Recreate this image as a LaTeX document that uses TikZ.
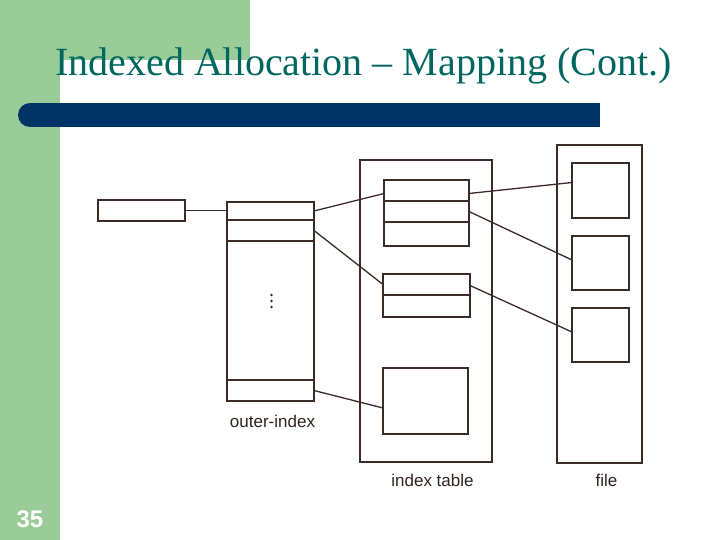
\documentclass[tikz,border=0pt]{standalone}
\usepackage{fontspec}
\setmainfont{Liberation Serif}
\setsansfont{Liberation Sans}
\definecolor{slidegreen}{RGB}{153,204,153}
\definecolor{barblue}{RGB}{0,51,102}
\definecolor{titleteal}{RGB}{0,102,96}
\definecolor{ink}{RGB}{58,43,38}
\begin{document}
\begin{tikzpicture}[x=1pt,y=-1pt,
  cell/.style={draw=ink,line width=1.2pt,inner sep=0pt,outer sep=0pt,rectangle},
  link/.style={draw=ink,line width=1.3pt},
  lab/.style={font=\sffamily\fontsize{17}{20}\selectfont,text=ink!85!black,inner sep=0pt,anchor=base}]
\useasboundingbox (0,0) rectangle (720,540);
\fill[white] (0,0) rectangle (720,540);
% slide decoration
\fill[slidegreen] (0,0) rectangle (60,540);
\fill[slidegreen] (0,0) rectangle (250,60);
\fill[barblue] (30,103) rectangle (600,127);
\fill[barblue] (30,115) circle (12pt);
\node[anchor=base west,inner sep=0pt,text=titleteal,font=\fontsize{40}{44}\selectfont] (title) at (55,76) {Indexed Allocation -- Mapping (Cont.)};
\node[anchor=base,inner sep=0pt,text=white,font=\sffamily\bfseries\fontsize{24}{28}\selectfont] (pagenum) at (30,527) {35};
% left pointer box
\node[cell,minimum width=87pt,minimum height=21pt] (small) at (141.5,210.5) {};
% outer index
\node[cell,minimum width=87pt,minimum height=18pt] (o1) at (270.5,211) {};
\node[cell,minimum width=87pt,minimum height=21pt] (o2) at (270.5,230.5) {};
\node[cell,minimum width=87pt,minimum height=139pt] (omid) at (270.5,310.5) {};
\node[cell,minimum width=87pt,minimum height=21pt] (olast) at (270.5,390.5) {};
\foreach \yy in {295,301,307} \fill[ink] (271.5,\yy) circle (1.3pt);
\node[lab] (outerlab) at (272.5,427) {outer-index};
% index table
\node[cell,minimum width=132pt,minimum height=302pt] (itab) at (426,311) {};
\node[cell,minimum width=85pt,minimum height=21pt] (b1r1) at (426.5,190.5) {};
\node[cell,minimum width=85pt,minimum height=21pt] (b1r2) at (426.5,211.5) {};
\node[cell,minimum width=85pt,minimum height=24pt] (b1r3) at (426.5,234) {};
\node[cell,minimum width=87pt,minimum height=21pt] (b2r1) at (426.5,284.5) {};
\node[cell,minimum width=87pt,minimum height=22pt] (b2r2) at (426.5,306) {};
\node[cell,minimum width=85pt,minimum height=66pt] (b3) at (425.5,401) {};
\node[lab] (itablab) at (432.5,486) {index table};
% file
\node[cell,minimum width=85pt,minimum height=318pt] (file) at (599.5,304) {};
\node[cell,minimum width=57pt,minimum height=55pt] (f1) at (600.5,190.5) {};
\node[cell,minimum width=57pt,minimum height=54pt] (f2) at (600.5,263) {};
\node[cell,minimum width=57pt,minimum height=54pt] (f3) at (600.5,335) {};
\node[lab] (filelab) at (606.5,486) {file};
% connectors
\draw[link] (small.east) -- (small.east -| o1.west);
\draw[link] (o1.east) -- ([yshift=-3pt]b1r1.west);
\draw[link] (o2.east) -- (b2r1.west);
\draw[link] (olast.east) -- ([yshift=-7pt]b3.west);
\draw[link] ([yshift=-3pt]b1r1.east) -- ([yshift=8pt]f1.west);
\draw[link] (b1r2.east) -- ([yshift=3pt]f2.west);
\draw[link] ([yshift=-1pt]b2r1.east) -- ([yshift=3pt]f3.west);
\end{tikzpicture}
\end{document}
